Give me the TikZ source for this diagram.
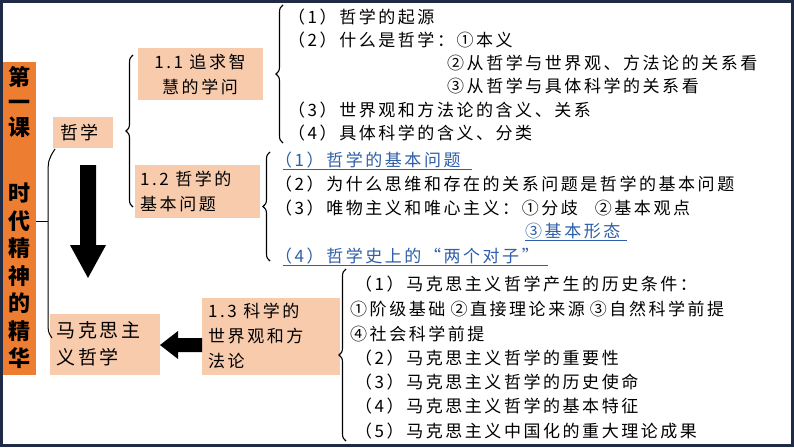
\documentclass[tikz,border=0pt]{standalone}
\usepackage{fontspec}
\setmainfont[LetterSpace=15]{Noto Sans CJK SC}
\usetikzlibrary{decorations.pathreplacing,shapes.arrows}
\definecolor{peach}{HTML}{F8CBAD}
\definecolor{org}{HTML}{ED7D31}
\definecolor{navy}{HTML}{1F2A44}
\definecolor{lnk}{HTML}{2E5FA8}
\begin{document}
\begin{tikzpicture}[x=1pt,y=-1pt,
  box/.style={fill=peach,inner sep=0pt},
  bt/.style={font=\fontsize{17}{25}\selectfont,align=left,anchor=west,inner sep=0pt},
  it/.style={font=\fontsize{17}{18}\selectfont,anchor=west,inner sep=0pt},
  bl/.style={it,text=lnk},
  br/.style={decorate,decoration={brace,amplitude=7pt},line width=1.1pt},
  ul/.style={lnk,line width=0.8pt}]
\useasboundingbox (0,0) rectangle (794,447);
\fill[white] (0,0) rectangle (794,447);
\draw[navy,line width=3pt] (1.5,1.5) rectangle (792.5,445.5);
% orange side box
\fill[org] (3,62) rectangle (36,375);
\node[font=\fontsize{22}{25}\selectfont\bfseries,align=center,inner sep=0pt] (side1) at (19.5,102) {第\\一\\课};
\node[font=\fontsize{22}{27.5}\selectfont\bfseries,align=center,inner sep=0pt] (side2) at (19.5,276) {时\\代\\精\\神\\的\\精\\华};
% boxes
\fill[box] (53,117) rectangle (113,148);
\node[bt,font=\fontsize{18}{21}\selectfont] (zx) at (60,133) {哲学};
\fill[box] (138,48) rectangle (263,100);
\node[bt,align=center,anchor=center] (b11) at (200,74) {1.1 追求智\\慧的学问};
\fill[box] (135,165) rectangle (260,218);
\node[bt] (b12) at (140,191) {1.2 哲学的\\基本问题};
\fill[box] (50,314) rectangle (160,375);
\node[bt,font=\fontsize{19}{27}\selectfont] (mk) at (56,344) {马克思主\\义哲学};
\fill[box] (202,298) rectangle (340,375);
\node[bt] (b13) at (208,336) {1.3 科学的\\世界观和方\\法论};
% arrows
\fill[black] (80,165) -- (96,165) -- (96,245) -- (106,245) -- (88,278) -- (70,245) -- (80,245) -- cycle;
\fill[black] (202,338) -- (178,338) -- (178,331) -- (160,345) -- (178,359) -- (178,352) -- (202,352) -- cycle;
% left connector
\draw[line width=1pt] (36,221) -- (48,221);
\draw[line width=1pt] (55,149) .. controls (48,160) .. (48,180) -- (48,320) .. controls (48,332) .. (52,338);
% braces
\draw[br] (133,207) -- (133,55);
\draw[br] (283,143) -- (283,5);
\draw[br] (270,261) -- (270,152);
\draw[br] (346,441) -- (346,269);
% list 1.1
\node[it] (a1) at (288,17) {（1）哲学的起源};
\node[it] (a2) at (288,40) {（2）什么是哲学：①本义};
\node[it] (a2b) at (447,63) {②从哲学与世界观、方法论的关系看};
\node[it] (a2c) at (447,86) {③从哲学与具体科学的关系看};
\node[it] (a3) at (288,110) {（3）世界观和方法论的含义、关系};
\node[it] (a4) at (288,133) {（4）具体科学的含义、分类};
% list 1.2
\node[bl] (c1) at (275,160) {（1）哲学的基本问题};
\draw[ul] (283,169) -- (472,169);
\node[it] (c2) at (275,184) {（2）为什么思维和存在的关系问题是哲学的基本问题};
\node[it] (c3) at (275,208) {（3）唯物主义和唯心主义：①分歧\hspace{1em}②基本观点};
\node[bl] (c3b) at (525,231) {③基本形态};
\draw[ul] (525,240) -- (627,240);
\node[bl] (c4) at (275,256) {（4）哲学史上的“两个对子”};
\draw[ul] (283,265) -- (548,265);
% list 1.3
\node[it] (d1) at (355,284) {（1）马克思主义哲学产生的历史条件：};
\node[it] (d1b) at (350,309) {①阶级基础\hspace{0.3em}②直接理论来源\hspace{0.3em}③自然科学前提};
\node[it] (d1c) at (350,334) {④社会科学前提};
\node[it] (d2) at (355,358) {（2）马克思主义哲学的重要性};
\node[it] (d3) at (355,382) {（3）马克思主义哲学的历史使命};
\node[it] (d4) at (355,406) {（4）马克思主义哲学的基本特征};
\node[it] (d5) at (355,431) {（5）马克思主义中国化的重大理论成果};
\end{tikzpicture}
\end{document}
